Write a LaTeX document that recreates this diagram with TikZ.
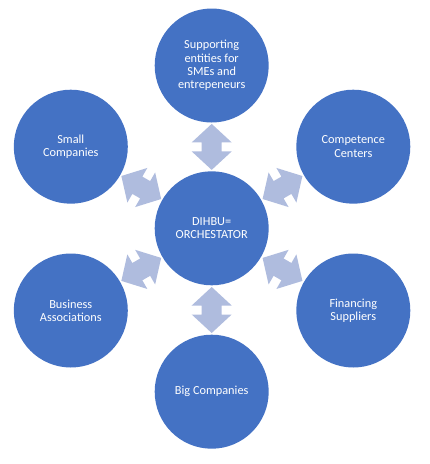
\documentclass[tikz,border=0pt]{standalone}
\usepackage{fontspec}
\setmainfont{Carlito}
\usetikzlibrary{calc}
\definecolor{circblue}{RGB}{68,114,196}
\definecolor{arrowblue}{RGB}{175,188,222}
\begin{document}
\begin{tikzpicture}[x=1pt,y=-1pt,
  circ/.style={circle, fill=circblue, draw=none, minimum size=114pt, inner sep=0pt, text=white, align=center, font=\fontsize{12.3}{13.3}\selectfont},
  dblarr/.pic={\fill[arrowblue] (-23,0) -- (-4.5,20) -- (-4.5,10) -- (4.5,10) -- (4.5,20) -- (23,0) -- (4.5,-20) -- (4.5,-10) -- (-4.5,-10) -- (-4.5,-20) -- cycle;}]
\useasboundingbox (0,0) rectangle (430,464);
\node[circ] (c) at (211.7,228.3) {DIHBU=\\ORCHESTATOR};
\node[circ] (t) at (211.7,65.5) {Supporting\\entities for\\SMEs and\\entrepeneurs};
\node[circ] (tl) at (70.8,146.7) {Small\\Companies};
\node[circ] (tr) at (353.3,146.7) {Competence\\Centers};
\node[circ] (bl) at (70.8,310.5) {Business\\Associations};
\node[circ] (br) at (353.3,310.5) {Financing\\Suppliers};
\node[circ] (b) at (211.7,391.7) {Big Companies};
\pic[rotate=90] (at) at ($(c)!0.5!(t)$) {dblarr};
\pic[rotate=90] (ab) at ($(c)!0.5!(b)$) {dblarr};
\pic[rotate=150] (atl) at ($(c)!0.5!(tl)$) {dblarr};
\pic[rotate=30] (atr) at ($(c)!0.5!(tr)$) {dblarr};
\pic[rotate=30] (abl) at ($(c)!0.5!(bl)$) {dblarr};
\pic[rotate=150] (abr) at ($(c)!0.5!(br)$) {dblarr};
\end{tikzpicture}
\end{document}
